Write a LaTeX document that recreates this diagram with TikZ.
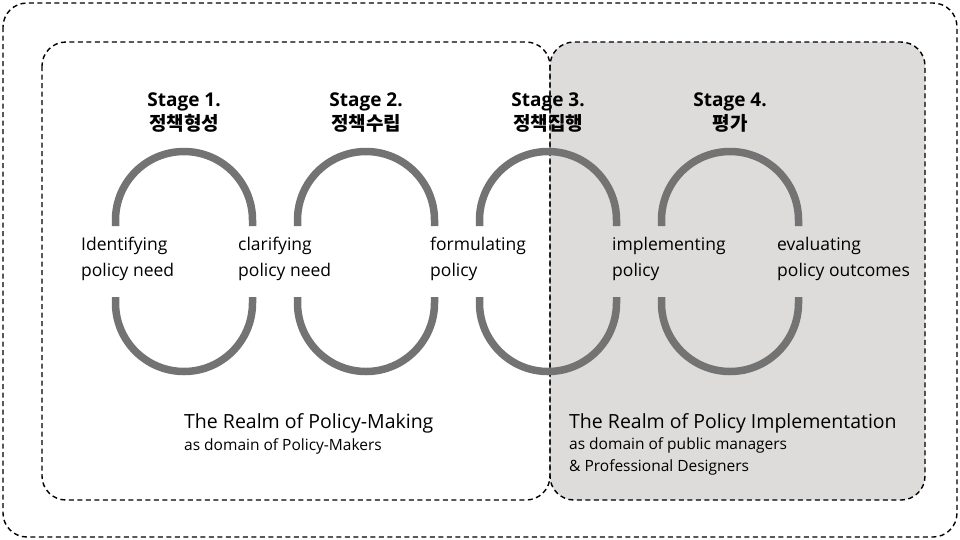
\documentclass[tikz,border=0pt]{standalone}
\usepackage{fontspec}
\setmainfont{Open Sans}
\newfontfamily\kr{Noto Sans CJK KR}
\definecolor{realm}{HTML}{DEDBDB}
\begin{document}
\begin{tikzpicture}[x=1pt,y=-1pt,
  loopl/.style={line width=7.5pt,draw=black!55},
  box/.style={dash pattern=on 5pt off 3.5pt,line width=1.4pt,rounded corners=24pt},
  lab/.style={font=\fontsize{17.5}{26}\selectfont,align=left,anchor=west,inner sep=0},
  stg/.style={font=\fontsize{19}{24}\selectfont\bfseries,align=center,inner sep=0},
  big/.style={font=\fontsize{19.5}{22}\selectfont,anchor=base west,inner sep=0},
  sml/.style={font=\fontsize{15.5}{18}\selectfont,anchor=base west,inner sep=0}]
\useasboundingbox (0,0) rectangle (960,539);
\fill[realm,rounded corners=24pt] (550,42) rectangle (925,500);
\draw[box] (3,3) rectangle (957,537);
\draw[box] (42,42) rectangle (550,500);
\draw[box] (550,42) rectangle (925,500);
\foreach \c/\n in {184/1,366/2,548/3,730/4}{
  \draw[loopl] (\c-68.5,226) -- (\c-68.5,220) arc[start angle=180,end angle=360,radius=68.5] -- (\c+68.5,226);
  \draw[loopl] (\c-68.5,297) -- (\c-68.5,303) arc[start angle=180,end angle=0,radius=68.5] -- (\c+68.5,297);
  \coordinate (s\n) at (\c,113);
}
\node[stg] (t1) at (s1) {Stage 1.\\{\kr\bfseries 정책형성}};
\node[stg] (t2) at (s2) {Stage 2.\\{\kr\bfseries 정책수립}};
\node[stg] (t3) at (s3) {Stage 3.\\{\kr\bfseries 정책집행}};
\node[stg] (t4) at (s4) {Stage 4.\\{\kr\bfseries 평가}};
\node[lab] (l1) at (81,259) {Identifying\\policy need};
\node[lab] (l2) at (238,259) {clarifying\\policy need};
\node[lab] (l3) at (430,259) {formulating\\policy};
\node[lab] (l4) at (612,259) {implementing\\policy};
\node[lab] (l5) at (777,259) {evaluating\\policy outcomes};
\node[big] (r1) at (184,428) {The Realm of Policy-Making};
\node[sml] (r1b) at (184,450) {as domain of Policy-Makers};
\node[big] (r2) at (569,428) {The Realm of Policy Implementation};
\node[sml] (r2b) at (569,449) {as domain of public managers};
\node[sml] (r2c) at (569,471) {\& Professional Designers};
\end{tikzpicture}
\end{document}
